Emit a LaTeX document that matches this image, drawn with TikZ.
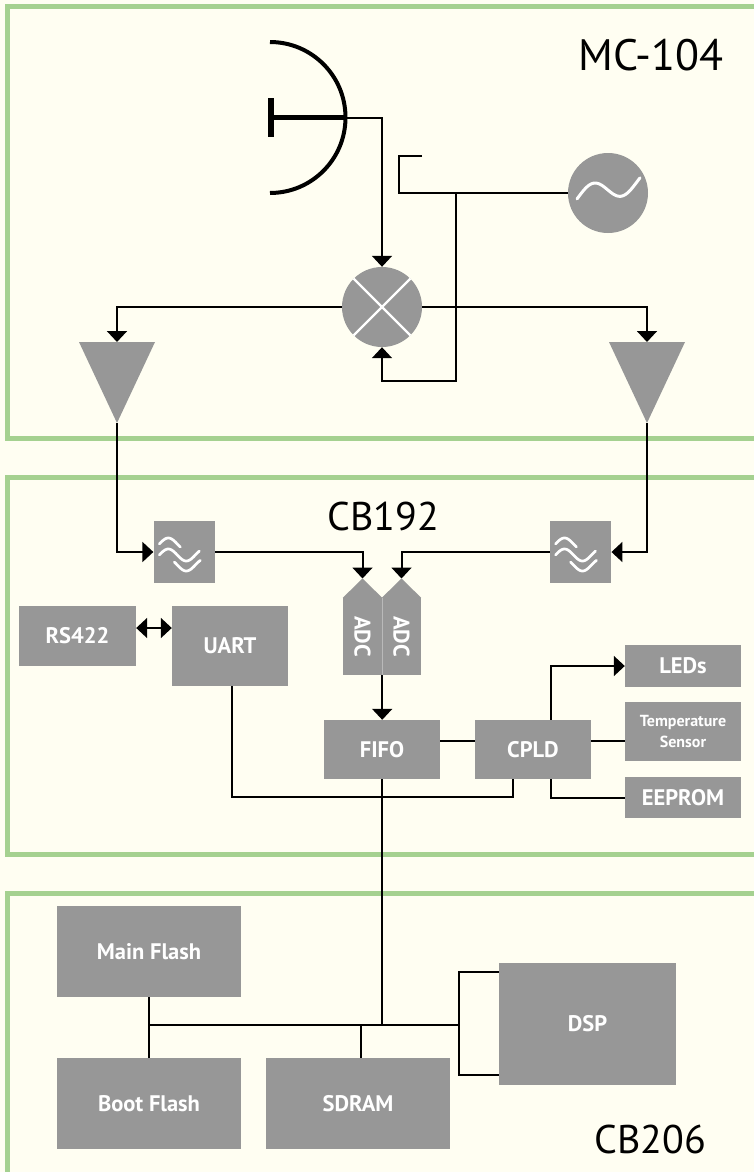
\documentclass[tikz,border=0pt]{standalone}
\usepackage{fontspec}
\setmainfont{PT Sans}
\usetikzlibrary{arrows.meta,positioning,calc}

\definecolor{panelgreen}{HTML}{A5D190}
\definecolor{boxgray}{HTML}{979797}
\definecolor{paper}{HTML}{FFFEF2}

\begin{document}
\begin{tikzpicture}[
x=1pt,y=-1pt,
panel/.style={
  draw=panelgreen,
  line width=5pt,
  fill=paper
},
blk/.style={
  fill=boxgray,
  text=white,
  inner sep=0pt,
  font=\bfseries\fontsize{22.5}{26}\selectfont
},
disc/.style={
  circle,
  fill=boxgray,
  minimum size=80pt,
  inner sep=0pt
},
wire/.style={line width=2pt},
sig/.style={wire,-{Triangle[width=20pt,length=11pt]}},
wave/.style={draw=white,line width=2.7pt,line cap=round},
title/.style={inner sep=0pt}
]
\useasboundingbox (0,0) rectangle (754,1172);
\clip (0,0) rectangle (754,1172);
\fill[paper] (0,0) rectangle (754,1172);

% boards
\draw[panel] (7.5,6.5) rectangle (790,438);
\draw[panel] (7.5,477) rectangle (790,854);
\draw[panel] (7.5,893.5) rectangle (790,1210);

\node[title,font=\fontsize{44}{48}\selectfont] (mc) at (651,55) {MC-104};
\node[title,font=\fontsize{40}{44}\selectfont] (cb1) at (383,516) {CB192};
\node[title,font=\fontsize{40}{44}\selectfont] (cb2) at (650,1139) {CB206};

% MC-104: antenna, mixer, oscillator, amplifiers
\coordinate (dishC) at (270,117.5);
\coordinate (feed) at (346,117.5);
\draw[line width=4pt] ([shift={(90:75.5pt)}]dishC) arc[start angle=90,end angle=-90,radius=75.5pt];
\draw[line width=5.5pt] (271,98) -- (271,137);
\draw[line width=5pt] (271,117.5) -- (feed);

\node[disc] (mix) at (382,307) {};
\draw[wave,line width=2.2pt,line cap=butt] (mix.north west) -- (mix.south east);
\draw[wave,line width=2.2pt,line cap=butt] (mix.north east) -- (mix.south west);

\node[disc] (osc) at (608,193) {};
\draw[wave,line width=3pt,shift={(osc)}] plot[domain=-31:32,samples=50,smooth]
  (\x,{-10*sin(6.2069*(\x+29.5))+4.3-0.25*(\x+31)});

\coordinate (ampLin) at (117,342);
\coordinate (ampLout) at (117,423);
\coordinate (ampRin) at (647,342);
\coordinate (ampRout) at (647,423);
\fill[boxgray] (79,342) -- (155,342) -- (ampLout) -- cycle;
\fill[boxgray] (609,342) -- (685,342) -- (ampRout) -- cycle;

\coordinate (stub) at (422,156);
\coordinate (lo) at (399,193);
\coordinate (tap) at (456,193);

\draw[sig] (feed) -| (mix.north);
\draw[wire] (stub) -| (lo) -- (osc.west);
\draw[sig] (tap) |- ([yshift=-34pt]mix.south) -- (mix.south);
\draw[sig] (mix.west) -| (ampLin);
\draw[sig] (mix.east) -| (ampRin);

% CB192
\node[blk,minimum width=61.5pt,minimum height=62pt] (fltL) at (184.3,552) {};
\node[blk,minimum width=61.5pt,minimum height=62pt] (fltR) at (580.5,552) {};
\foreach \f in {fltL,fltR}{
  \begin{scope}[shift={(\f)}]
    \draw[wave] plot[domain=-25:-4,samples=25,smooth] (\x,{-8-6*sin(10*(\x+25))});
    \draw[wave] plot[domain=-25:15,samples=40,smooth] (\x,{3-6*sin(10*(\x+25))});
    \draw[wave] plot[domain=-10:16,samples=30,smooth] (\x,{13-6*sin(10*(\x+25))});
  \end{scope}
}

\node[blk,minimum width=39pt,minimum height=77pt] (adcL) at (362.5,636.5)
  {\rotatebox{-90}{ADC}};
\node[blk,minimum width=39pt,minimum height=77pt] (adcR) at (401.5,636.5)
  {\rotatebox{-90}{ADC}};
\coordinate (adcLtip) at (362.5,578.5);
\coordinate (adcRtip) at (401.5,578.5);
\fill[boxgray] (adcL.north west) -- (adcLtip) -- (adcL.north east) -- cycle;
\fill[boxgray] (adcR.north west) -- (adcRtip) -- (adcR.north east) -- cycle;
\draw[gray!55,line width=0.8pt] (adcL.north east) -- (adcL.south east);

\node[blk,minimum width=117pt,minimum height=60pt] (rs) at (77.5,636) {RS422};
\node[blk,minimum width=116pt,minimum height=80pt] (uart) at (230,646) {UART};
\node[blk,minimum width=116pt,minimum height=59pt] (fifo) at (382,749.5) {FIFO};
\node[blk,minimum width=116pt,minimum height=59pt] (cpld) at (533,749.5) {CPLD};
\node[blk,minimum width=116pt,minimum height=42pt] (leds) at (683,666) {LEDs};
\node[blk,minimum width=116pt,minimum height=59pt,align=center,
  font=\bfseries\fontsize{16}{21}\selectfont] (temp) at (683,731.5) {Temperature\\Sensor};
\node[blk,minimum width=116pt,minimum height=41pt] (eeprom) at (683,797.5) {EEPROM};

\coordinate (ctl) at (513,797);

\draw[sig] (ampLout) |- (fltL.west);
\draw[sig] (ampRout) |- (fltR.east);
\draw[sig] (fltL.east) -| (adcLtip);
\draw[sig] (fltR.west) -| (adcRtip);
\draw[sig] (adcL.south east) -- (adcL.south east |- fifo.north);
\draw[wire,{Triangle[width=20pt,length=11pt]}-{Triangle[width=20pt,length=11pt]}]
  ([yshift=8pt]rs.east) -- ([yshift=8pt]rs.east -| uart.west);
\draw[wire] ([yshift=8.5pt]fifo.east) -- ([yshift=8.5pt]fifo.east -| cpld.west);
\draw[wire] ([yshift=8.5pt]cpld.east) -- ([yshift=8.5pt]cpld.east -| temp.west);
\draw[sig] ([xshift=18pt]cpld.north) |- (leds.west);
\draw[wire] ([xshift=18pt]cpld.south) |- (eeprom.west);
\draw[wire] ([xshift=2pt]uart.south) |- (ctl) -- (ctl |- cpld.south);

% CB206
\node[blk,minimum width=184pt,minimum height=91pt] (main) at (149,951.5) {Main Flash};
\node[blk,minimum width=184pt,minimum height=91pt] (boot) at (149,1103.5) {Boot Flash};
\node[blk,minimum width=184pt,minimum height=91pt] (sdram) at (358,1103.5) {SDRAM};
\node[blk,minimum width=177pt,minimum height=122pt] (dsp) at (587.5,1024) {DSP};

\coordinate (busL) at (149,1025);
\coordinate (busR) at (459,1025);

\draw[wire] (fifo.south) -- (fifo.south |- busR);
\draw[wire] (main.south) -- (boot.north);
\draw[wire] (busL) -- (busR);
\draw[wire] ([xshift=3pt]sdram.north) -- ([xshift=3pt]sdram.north |- busR);
\draw[wire] ([yshift=52pt]dsp.west) -| (busR) |- ([yshift=-51pt]dsp.west);

\end{tikzpicture}
\end{document}
